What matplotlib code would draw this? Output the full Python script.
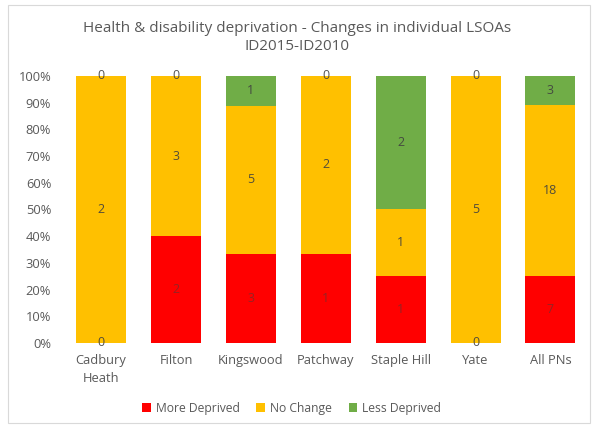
import matplotlib
matplotlib.use("Agg")
import matplotlib.pyplot as plt
import numpy as np

categories = ["Cadbury\nHeath", "Filton", "Kingswood", "Patchway", "Staple Hill", "Yate", "All PNs"]
more_deprived = [0, 2, 3, 1, 1, 0, 7]
no_change = [2, 3, 5, 2, 1, 5, 18]
less_deprived = [0, 0, 1, 0, 2, 0, 3]
series_names = ["More Deprived", "No Change", "Less Deprived"]
colors = ["#FF0000", "#FFC000", "#70AD47"]
title = "Health & disability deprivation - Changes in individual LSOAs\nID2015-ID2010"

plt.rcParams['font.family'] = ['Open Sans', 'DejaVu Sans']
txt = "#595959"

fig = plt.figure(figsize=(5.95, 4.26), dpi=100)
# chart border
fig.patches.append(plt.Rectangle((8/595, 3/426), 582/595, 418/426, transform=fig.transFigure,
                                 fill=False, edgecolor="#D9D9D9", linewidth=0.8))
ax = fig.add_axes([0.107, 0.195, 0.881, 0.6266])

data = np.array([more_deprived, no_change, less_deprived], dtype=float)
totals = data.sum(axis=0)
pct = data / totals * 100
x = np.arange(len(categories))
bottom = np.zeros(len(categories))
for i in range(3):
    ax.bar(x, pct[i], bottom=bottom, width=0.667, color=colors[i], label=series_names[i])
    for j in range(len(categories)):
        yc = bottom[j] + pct[i][j] / 2
        lc = "#404040"
        al = 0.55 if i == 0 and data[i][j] > 0 else 0.9
        ax.text(x[j], yc, f"{int(data[i][j])}", ha="center", va="center",
                fontsize=9, color=lc, alpha=al)
    bottom += pct[i]

ax.set_xlim(-0.5, len(categories) - 0.5)
ax.set_ylim(0, 100)
ax.set_yticks(np.arange(0, 101, 10))
ax.set_yticklabels([f"{v}%" for v in range(0, 101, 10)])
ax.set_xticks(x)
ax.set_xticklabels(categories, linespacing=1.45)
for s in ax.spines.values():
    s.set_visible(False)
ax.tick_params(axis="both", length=0, labelsize=9.3, colors=txt)
ax.tick_params(axis="x", pad=8)
ax.tick_params(axis="y", pad=9)

fig.text(0.5, 0.912, title, ha="center", va="center", fontsize=11, color=txt, linespacing=1.3)

leg = fig.legend(loc="center", bbox_to_anchor=(0.49, 0.042), ncol=3, frameon=False,
                 fontsize=8.7, handlelength=0.7, handleheight=0.7, handletextpad=0.4,
                 columnspacing=1.4)
for t in leg.get_texts():
    t.set_color(txt)

fig.savefig("out.png", dpi=100)
